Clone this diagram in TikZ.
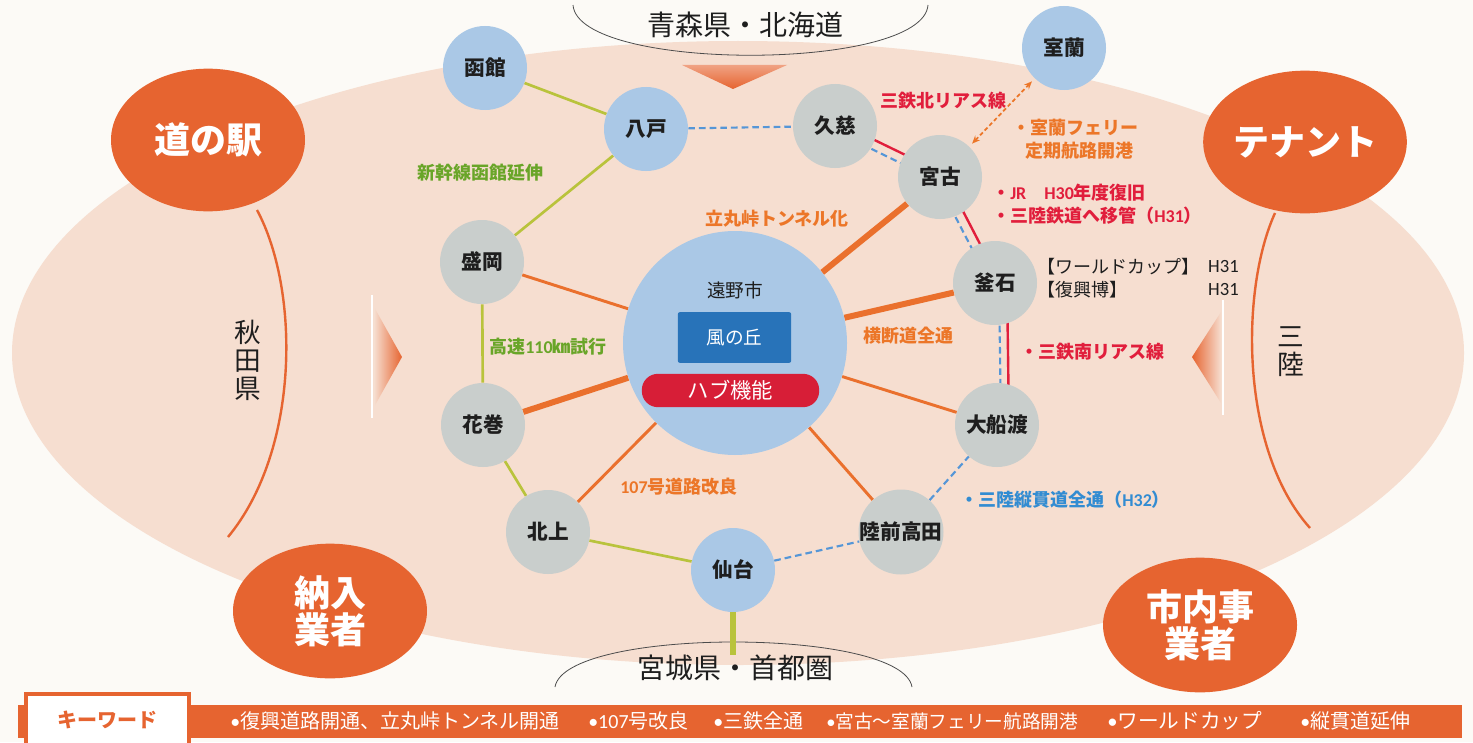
\documentclass[tikz,border=0pt]{standalone}
\usepackage{fontspec}
\setmainfont{Noto Sans CJK JP}
\newfontfamily\lat{Carlito}
\usetikzlibrary{calc,arrows.meta,shapes.geometric}
\pgfdeclarelayer{bg}
\pgfdeclarelayer{edges}
\pgfsetlayers{bg,edges,main}
\definecolor{cblue}{RGB}{170,200,230}
\definecolor{cgray}{RGB}{201,206,204}
\definecolor{corange}{RGB}{230,100,48}
\definecolor{corange2}{RGB}{234,112,45}
\definecolor{cgreen}{RGB}{185,195,60}
\definecolor{cgtext}{RGB}{105,165,40}
\definecolor{cred}{RGB}{225,30,60}
\definecolor{cdash}{RGB}{85,150,215}
\definecolor{cotext}{RGB}{236,118,40}
\definecolor{cbtext}{RGB}{50,140,210}
\definecolor{cbox}{RGB}{40,115,185}
\definecolor{chub}{RGB}{215,30,55}
\definecolor{cpeach}{RGB}{246,222,208}
\definecolor{cbg}{RGB}{252,250,246}
\definecolor{ctext}{RGB}{30,30,30}
\begin{document}
\begin{tikzpicture}[x=0.75pt,y=-0.75pt,
  city/.style={circle,minimum size=63pt,inner sep=0pt,font=\fontsize{15.5}{18}\selectfont\bfseries,text=ctext},
  bcity/.style={city,fill=cblue},
  gcity/.style={city,fill=cgray},
  oval/.style={ellipse,fill=corange,inner sep=0pt,minimum width=145.5pt,minimum height=107pt,text=white,align=center,font=\fontsize{27}{28}\selectfont\bfseries},
  lbl/.style={inner sep=0pt,font=\fontsize{13.5}{16}\selectfont\bfseries},
  kw/.style={inner sep=0pt,anchor=west,text=white,font=\fontsize{15}{18}\selectfont},
  captxt/.style={inner sep=0pt,text=ctext,font=\fontsize{21}{24}\selectfont},
  vert/.style={inner sep=0pt,text=ctext,align=center,font=\fontsize{20}{21}\selectfont},
  gline/.style={draw=cgreen,line width=2pt},
  bdash/.style={draw=cdash,line width=1.6pt,dash pattern=on 5pt off 3pt},
  rline/.style={draw=cred,line width=1.8pt},
  oline/.style={draw=corange2,line width=2.2pt},
  othick/.style={draw=corange2,line width=4.5pt},
  orarc/.style={draw=corange,line width=1.8pt},
  thinline/.style={draw=black!70,line width=0.6pt}
]
\useasboundingbox (0,0) rectangle (1473,742);
\begin{pgfonlayer}{bg}
\fill[cbg] (0,0) rectangle (1473,742);
\fill[cpeach] (738,353) ellipse [x radius=726, y radius=312];
% triangles
\shade[left color=cpeach,right color=corange] (374,307) -- (402,357) -- (374,407) -- cycle;
\draw[white,line width=2pt] (372,295) -- (372,418);
\shade[left color=corange,right color=cpeach] (1221,312) -- (1192,357) -- (1221,403) -- cycle;
\draw[white,line width=2pt] (1223,300) -- (1223,415);
\shade[top color=corange!60!white,bottom color=corange] (682,65) -- (787,65) -- (733,89) -- cycle;
% caption arcs
\draw[thinline] (573,5) .. controls (578,72) and (923,72) .. (928,5);
\draw[thinline] (555,687) .. controls (565,627) and (902,627) .. (912,687);
% keyword bar
\fill[corange] (18,705) rectangle (1462,738);
\draw[corange,line width=2.5pt,fill=white] (26,694) rectangle (189,760);
\end{pgfonlayer}

% oval nodes
\node[oval] (michi) at (208,140) {道の駅};
\node[oval] (tenant) at (1305,142) {テナント};
\node[oval,minimum height=101pt] (nonyu) at (330,611) {納入\\業者};
\node[oval,minimum height=101pt] (shinai) at (1200,625) {市内事\\業者};

\coordinate (larcend) at (228,537);
\coordinate (rarcend) at (1310,528);
\begin{pgfonlayer}{bg}
\draw[orarc] (257,210) .. controls (300,290) and (300,450) .. (larcend);
\draw[orarc] (1275,213) .. controls (1240,290) and (1240,450) .. (rarcend);
\end{pgfonlayer}

\node[vert] (akita) at (248,360) {秋\\田\\県};
\node[vert] (sanriku) at (1291,352) {三\\陸};

\node[captxt] (aomori) at (745,25) {青森県・北海道};
\node[captxt] (miyagi) at (735,668) {宮城県・首都圏};

% center
\node[circle,fill=cblue,minimum size=168pt,inner sep=0pt] (tono) at (735,343) {};
\node[inner sep=0pt,text=ctext,font=\fontsize{14}{16}\selectfont] (tonot) at (735,290) {遠野市};
\node[fill=cbox,minimum width=85pt,minimum height=38pt,inner sep=0pt,rounded corners=1.5pt,text=white,font=\fontsize{14}{16}\selectfont] (kaze) at (734.5,337.5) {風の丘};
\node[fill=chub,minimum width=133pt,minimum height=25pt,inner sep=0pt,rounded corners=12pt,text=white,font=\fontsize{16}{18}\selectfont] (hub) at (730.5,390.5) {ハブ機能};

% cities
\node[bcity] (hakodate) at (485,68) {函館};
\node[bcity] (hachinohe) at (646,129) {八戸};
\node[gcity] (kuji) at (835,126) {久慈};
\node[gcity] (miyako) at (940,177) {宮古};
\node[bcity] (muroran) at (1064,48) {室蘭};
\node[gcity] (kamaishi) at (995,283) {釜石};
\node[gcity] (morioka) at (482,262) {盛岡};
\node[gcity] (hanamaki) at (483,425) {花巻};
\node[gcity] (kitakami) at (548,532) {北上};
\node[bcity] (sendai) at (733,570) {仙台};
\node[gcity] (rikuzen) at (901,532) {陸前高田};
\node[gcity] (ofunato) at (997,425) {大船渡};

% edges
\begin{pgfonlayer}{edges}
\draw[gline] (hakodate) -- (hachinohe);
\draw[gline] (hachinohe) -- (morioka);
\draw[gline] (morioka) -- (hanamaki);
\draw[gline] (hanamaki) -- (kitakami);
\draw[gline] (kitakami) -- (sendai);
\draw[draw=cgreen,line width=3.8pt] (sendai) -- (sendai |- miyagi.north);
\draw[bdash] (hachinohe) -- (kuji);
\draw[bdash] (sendai) -- (rikuzen);
\draw[bdash] (rikuzen) -- (ofunato);
\draw[rline] ($(kuji.center)!3.5pt!90:(miyako.center)$) -- ($(miyako.center)!3.5pt!-90:(kuji.center)$);
\draw[bdash] ($(kuji.center)!3.5pt!-90:(miyako.center)$) -- ($(miyako.center)!3.5pt!90:(kuji.center)$);
\draw[rline] ($(miyako.center)!3.5pt!90:(kamaishi.center)$) -- ($(kamaishi.center)!3.5pt!-90:(miyako.center)$);
\draw[bdash] ($(miyako.center)!3.5pt!-90:(kamaishi.center)$) -- ($(kamaishi.center)!3.5pt!90:(miyako.center)$);
\draw[rline] ($(kamaishi.center)!9pt!90:(ofunato.center)$) -- ($(ofunato.center)!9pt!-90:(kamaishi.center)$);
\draw[bdash] ($(kamaishi.center)!3pt!90:(ofunato.center)$) -- ($(ofunato.center)!3pt!-90:(kamaishi.center)$);
\draw[othick] (tono) -- (miyako);
\draw[othick] (tono) -- (kamaishi);
\draw[othick] (tono) -- (hanamaki);
\draw[oline] (tono) -- (morioka);
\draw[oline] (tono) -- (ofunato);
\draw[oline] (tono) -- (rikuzen);
\draw[oline] (tono) -- (kitakami);
\end{pgfonlayer}
\draw[draw=cotext,line width=1.3pt,dash pattern=on 3pt off 2pt,{Stealth[length=6pt,width=5pt]}-{Stealth[length=6pt,width=5pt]},shorten <=3pt,shorten >=3pt] (miyako) -- (muroran);

% labels
\node[lbl,text=cgtext] (l1) at (480,173) {新幹線函館延伸};
\node[lbl,text=cred] (l2) at (943,101) {三鉄北リアス線};
\node[lbl,text=cotext,anchor=west] (l3) at (1012,128) {・室蘭フェリー};
\node[lbl,text=cotext,anchor=west] (l4) at (1025,151) {定期航路開港};
\node[lbl,text=cred,anchor=west] (l5) at (992,193) {・{\lat JR\quad H30}年度復旧};
\node[lbl,text=cred,anchor=west] (l6) at (992,216) {・三陸鉄道へ移管（{\lat H31}）};
\node[lbl,text=cotext] (l7) at (777,219) {立丸峠トンネル化};
\node[inner sep=0pt,anchor=west,text=ctext,font=\fontsize{13.5}{16}\selectfont] (l8) at (1037,267) {【ワールドカップ】};
\node[inner sep=0pt,anchor=east,text=ctext,font=\lat\fontsize{14}{16}\selectfont] (l8b) at (1239,267) {H31};
\node[inner sep=0pt,anchor=west,text=ctext,font=\fontsize{13.5}{16}\selectfont] (l9) at (1037,290) {【復興博】};
\node[inner sep=0pt,anchor=east,text=ctext,font=\lat\fontsize{14}{16}\selectfont] (l9b) at (1239,290) {H31};
\node[lbl,text=cotext] (l10) at (908,336) {横断道全通};
\node[lbl,text=cred,anchor=west] (l11) at (1020,352) {・三鉄南リアス線};
\node[lbl,text=cgtext] (l12) at (548,347) {高速{\lat 110}㎞試行};
\node[lbl,text=cotext] (l13) at (679,487) {{\lat 107}号道路改良};
\node[lbl,text=cbtext,anchor=west] (l14) at (960,500) {・三陸縦貫道全通（{\lat H32}）};

% keyword
\node[inner sep=0pt,text=corange,font=\fontsize{15}{18}\selectfont\bfseries] (kwt) at (107,720) {キーワード};
\node[kw] (k1) at (230,721) {{\lat•}復興道路開通、立丸峠トンネル開通};
\node[kw] (k2) at (588,721) {{\lat•}{\lat 107}号改良};
\node[kw] (k3) at (713,721) {{\lat•}三鉄全通};
\node[kw,font=\fontsize{14}{18}\selectfont] (k4) at (826,721) {{\lat•}宮古～室蘭フェリー航路開港};
\node[kw,font=\fontsize{15.5}{18}\selectfont] (k5) at (1107,721) {{\lat•}ワールドカップ};
\node[kw] (k6) at (1300,721) {{\lat•}縦貫道延伸};
\end{tikzpicture}
\end{document}
